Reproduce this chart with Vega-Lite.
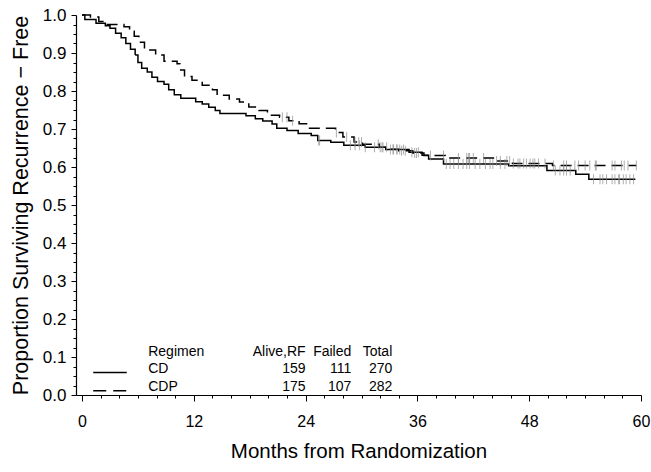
{
  "$schema": "https://vega.github.io/schema/vega-lite/v6.json",
  "autosize": "none",
  "width": 565,
  "height": 380,
  "padding": {"left": 76, "top": 15, "right": 10, "bottom": 77},
  "background": "white",
  "config": {
    "view": {"stroke": null},
    "font": "Liberation Sans",
    "axis": {"domainColor": "black", "tickColor": "black", "labelColor": "black", "titleColor": "black", "grid": false, "titleFontWeight": "normal", "labelFont": "Liberation Sans", "titleFont": "Liberation Sans", "domainWidth": 1.2, "tickWidth": 1, "labelOverlap": false, "labelFlush": false}
  },
  "datasets": {
    "curves": [
      {"regimen": "CD", "t": 0, "s": 1.0},
      {"regimen": "CD", "t": 0.3, "s": 0.988},
      {"regimen": "CD", "t": 1.5, "s": 0.978},
      {"regimen": "CD", "t": 2.5, "s": 0.972},
      {"regimen": "CD", "t": 3.0, "s": 0.965},
      {"regimen": "CD", "t": 3.6, "s": 0.952},
      {"regimen": "CD", "t": 4.2, "s": 0.94},
      {"regimen": "CD", "t": 4.7, "s": 0.925},
      {"regimen": "CD", "t": 5.2, "s": 0.91},
      {"regimen": "CD", "t": 5.7, "s": 0.895},
      {"regimen": "CD", "t": 6.0, "s": 0.875},
      {"regimen": "CD", "t": 6.4, "s": 0.86},
      {"regimen": "CD", "t": 7.0, "s": 0.85},
      {"regimen": "CD", "t": 7.5, "s": 0.836},
      {"regimen": "CD", "t": 8.1, "s": 0.825},
      {"regimen": "CD", "t": 8.8, "s": 0.818},
      {"regimen": "CD", "t": 9.3, "s": 0.803},
      {"regimen": "CD", "t": 9.9, "s": 0.79},
      {"regimen": "CD", "t": 10.6, "s": 0.781},
      {"regimen": "CD", "t": 12.2, "s": 0.772},
      {"regimen": "CD", "t": 12.9, "s": 0.766},
      {"regimen": "CD", "t": 13.6, "s": 0.757},
      {"regimen": "CD", "t": 14.3, "s": 0.749},
      {"regimen": "CD", "t": 14.8, "s": 0.741},
      {"regimen": "CD", "t": 17.6, "s": 0.735},
      {"regimen": "CD", "t": 18.6, "s": 0.727},
      {"regimen": "CD", "t": 19.4, "s": 0.721},
      {"regimen": "CD", "t": 20.4, "s": 0.713},
      {"regimen": "CD", "t": 20.9, "s": 0.702},
      {"regimen": "CD", "t": 22.0, "s": 0.696},
      {"regimen": "CD", "t": 23.2, "s": 0.688},
      {"regimen": "CD", "t": 24.6, "s": 0.683},
      {"regimen": "CD", "t": 25.3, "s": 0.67},
      {"regimen": "CD", "t": 26.7, "s": 0.665},
      {"regimen": "CD", "t": 28.1, "s": 0.657},
      {"regimen": "CD", "t": 30.4, "s": 0.652},
      {"regimen": "CD", "t": 32.6, "s": 0.646},
      {"regimen": "CD", "t": 35.1, "s": 0.639},
      {"regimen": "CD", "t": 36.5, "s": 0.631},
      {"regimen": "CD", "t": 37.2, "s": 0.621},
      {"regimen": "CD", "t": 38.8, "s": 0.608},
      {"regimen": "CD", "t": 45.8, "s": 0.603},
      {"regimen": "CD", "t": 49.9, "s": 0.591},
      {"regimen": "CD", "t": 53.0, "s": 0.581},
      {"regimen": "CD", "t": 54.4, "s": 0.568},
      {"regimen": "CD", "t": 59.4, "s": 0.568},
      {"regimen": "CDP", "t": 0, "s": 1.0},
      {"regimen": "CDP", "t": 0.9, "s": 0.995},
      {"regimen": "CDP", "t": 1.8, "s": 0.983},
      {"regimen": "CDP", "t": 2.5, "s": 0.975},
      {"regimen": "CDP", "t": 4.5, "s": 0.969},
      {"regimen": "CDP", "t": 5.1, "s": 0.957},
      {"regimen": "CDP", "t": 5.6, "s": 0.944},
      {"regimen": "CDP", "t": 6.1, "s": 0.928},
      {"regimen": "CDP", "t": 6.7, "s": 0.908},
      {"regimen": "CDP", "t": 7.9, "s": 0.895},
      {"regimen": "CDP", "t": 8.8, "s": 0.878},
      {"regimen": "CDP", "t": 10.2, "s": 0.872},
      {"regimen": "CDP", "t": 10.5, "s": 0.855},
      {"regimen": "CDP", "t": 11.0, "s": 0.838},
      {"regimen": "CDP", "t": 11.8, "s": 0.828},
      {"regimen": "CDP", "t": 12.9, "s": 0.815},
      {"regimen": "CDP", "t": 14.0, "s": 0.803},
      {"regimen": "CDP", "t": 14.5, "s": 0.789},
      {"regimen": "CDP", "t": 15.8, "s": 0.779},
      {"regimen": "CDP", "t": 16.9, "s": 0.771},
      {"regimen": "CDP", "t": 17.9, "s": 0.758},
      {"regimen": "CDP", "t": 19.0, "s": 0.749},
      {"regimen": "CDP", "t": 19.9, "s": 0.736},
      {"regimen": "CDP", "t": 21.2, "s": 0.731},
      {"regimen": "CDP", "t": 22.2, "s": 0.722},
      {"regimen": "CDP", "t": 23.3, "s": 0.714},
      {"regimen": "CDP", "t": 24.1, "s": 0.702},
      {"regimen": "CDP", "t": 27.2, "s": 0.691},
      {"regimen": "CDP", "t": 28.0, "s": 0.679},
      {"regimen": "CDP", "t": 29.2, "s": 0.666},
      {"regimen": "CDP", "t": 30.1, "s": 0.66},
      {"regimen": "CDP", "t": 31.9, "s": 0.652},
      {"regimen": "CDP", "t": 33.0, "s": 0.647},
      {"regimen": "CDP", "t": 34.0, "s": 0.643},
      {"regimen": "CDP", "t": 35.5, "s": 0.637},
      {"regimen": "CDP", "t": 36.7, "s": 0.63},
      {"regimen": "CDP", "t": 39.0, "s": 0.624},
      {"regimen": "CDP", "t": 44.4, "s": 0.616},
      {"regimen": "CDP", "t": 46.2, "s": 0.609},
      {"regimen": "CDP", "t": 50.5, "s": 0.604},
      {"regimen": "CDP", "t": 59.5, "s": 0.604}
    ],
    "censored": [
      {"regimen": "CDP", "t": 21.5, "s": 0.731},
      {"regimen": "CDP", "t": 22.0, "s": 0.731},
      {"regimen": "CDP", "t": 22.6, "s": 0.722},
      {"regimen": "CDP", "t": 27.3, "s": 0.691},
      {"regimen": "CDP", "t": 28.4, "s": 0.679},
      {"regimen": "CDP", "t": 29.3, "s": 0.666},
      {"regimen": "CDP", "t": 29.7, "s": 0.666},
      {"regimen": "CDP", "t": 30.0, "s": 0.666},
      {"regimen": "CDP", "t": 31.8, "s": 0.66},
      {"regimen": "CDP", "t": 32.2, "s": 0.652},
      {"regimen": "CDP", "t": 32.7, "s": 0.652},
      {"regimen": "CDP", "t": 33.4, "s": 0.647},
      {"regimen": "CDP", "t": 33.8, "s": 0.647},
      {"regimen": "CDP", "t": 34.3, "s": 0.643},
      {"regimen": "CDP", "t": 34.7, "s": 0.643},
      {"regimen": "CDP", "t": 35.7, "s": 0.637},
      {"regimen": "CDP", "t": 35.9, "s": 0.637},
      {"regimen": "CDP", "t": 37.4, "s": 0.63},
      {"regimen": "CDP", "t": 38.8, "s": 0.63},
      {"regimen": "CDP", "t": 40.4, "s": 0.624},
      {"regimen": "CDP", "t": 41.3, "s": 0.624},
      {"regimen": "CDP", "t": 41.5, "s": 0.624},
      {"regimen": "CDP", "t": 41.6, "s": 0.624},
      {"regimen": "CDP", "t": 42.0, "s": 0.624},
      {"regimen": "CDP", "t": 43.1, "s": 0.624},
      {"regimen": "CDP", "t": 44.5, "s": 0.616},
      {"regimen": "CDP", "t": 44.9, "s": 0.616},
      {"regimen": "CDP", "t": 45.6, "s": 0.616},
      {"regimen": "CDP", "t": 45.9, "s": 0.616},
      {"regimen": "CDP", "t": 46.3, "s": 0.609},
      {"regimen": "CDP", "t": 46.8, "s": 0.609},
      {"regimen": "CDP", "t": 47.0, "s": 0.609},
      {"regimen": "CDP", "t": 47.4, "s": 0.609},
      {"regimen": "CDP", "t": 47.7, "s": 0.609},
      {"regimen": "CDP", "t": 48.1, "s": 0.609},
      {"regimen": "CDP", "t": 48.4, "s": 0.609},
      {"regimen": "CDP", "t": 48.6, "s": 0.609},
      {"regimen": "CDP", "t": 49.0, "s": 0.609},
      {"regimen": "CDP", "t": 49.7, "s": 0.609},
      {"regimen": "CDP", "t": 50.6, "s": 0.604},
      {"regimen": "CDP", "t": 51.7, "s": 0.604},
      {"regimen": "CDP", "t": 52.0, "s": 0.604},
      {"regimen": "CDP", "t": 52.9, "s": 0.604},
      {"regimen": "CDP", "t": 53.3, "s": 0.604},
      {"regimen": "CDP", "t": 54.0, "s": 0.604},
      {"regimen": "CDP", "t": 54.5, "s": 0.604},
      {"regimen": "CDP", "t": 55.1, "s": 0.604},
      {"regimen": "CDP", "t": 55.2, "s": 0.604},
      {"regimen": "CDP", "t": 56.9, "s": 0.604},
      {"regimen": "CDP", "t": 57.2, "s": 0.604},
      {"regimen": "CDP", "t": 57.9, "s": 0.604},
      {"regimen": "CDP", "t": 58.2, "s": 0.604},
      {"regimen": "CDP", "t": 58.6, "s": 0.604},
      {"regimen": "CDP", "t": 59.5, "s": 0.604},
      {"regimen": "CD", "t": 25.4, "s": 0.67},
      {"regimen": "CD", "t": 25.5, "s": 0.67},
      {"regimen": "CD", "t": 28.8, "s": 0.657},
      {"regimen": "CD", "t": 29.3, "s": 0.657},
      {"regimen": "CD", "t": 29.8, "s": 0.657},
      {"regimen": "CD", "t": 30.4, "s": 0.652},
      {"regimen": "CD", "t": 31.4, "s": 0.652},
      {"regimen": "CD", "t": 32.0, "s": 0.652},
      {"regimen": "CD", "t": 32.3, "s": 0.652},
      {"regimen": "CD", "t": 33.1, "s": 0.646},
      {"regimen": "CD", "t": 33.4, "s": 0.646},
      {"regimen": "CD", "t": 33.8, "s": 0.646},
      {"regimen": "CD", "t": 34.1, "s": 0.646},
      {"regimen": "CD", "t": 34.5, "s": 0.646},
      {"regimen": "CD", "t": 35.4, "s": 0.639},
      {"regimen": "CD", "t": 36.1, "s": 0.639},
      {"regimen": "CD", "t": 39.1, "s": 0.608},
      {"regimen": "CD", "t": 39.5, "s": 0.608},
      {"regimen": "CD", "t": 39.9, "s": 0.608},
      {"regimen": "CD", "t": 40.4, "s": 0.608},
      {"regimen": "CD", "t": 40.9, "s": 0.608},
      {"regimen": "CD", "t": 41.3, "s": 0.608},
      {"regimen": "CD", "t": 41.6, "s": 0.608},
      {"regimen": "CD", "t": 42.2, "s": 0.608},
      {"regimen": "CD", "t": 42.7, "s": 0.608},
      {"regimen": "CD", "t": 43.3, "s": 0.608},
      {"regimen": "CD", "t": 43.8, "s": 0.608},
      {"regimen": "CD", "t": 44.1, "s": 0.608},
      {"regimen": "CD", "t": 44.9, "s": 0.608},
      {"regimen": "CD", "t": 45.4, "s": 0.608},
      {"regimen": "CD", "t": 50.8, "s": 0.591},
      {"regimen": "CD", "t": 51.3, "s": 0.591},
      {"regimen": "CD", "t": 51.7, "s": 0.591},
      {"regimen": "CD", "t": 52.0, "s": 0.591},
      {"regimen": "CD", "t": 52.4, "s": 0.591},
      {"regimen": "CD", "t": 54.9, "s": 0.568},
      {"regimen": "CD", "t": 55.6, "s": 0.568},
      {"regimen": "CD", "t": 55.9, "s": 0.568},
      {"regimen": "CD", "t": 56.3, "s": 0.568},
      {"regimen": "CD", "t": 56.9, "s": 0.568},
      {"regimen": "CD", "t": 57.2, "s": 0.568},
      {"regimen": "CD", "t": 57.6, "s": 0.568},
      {"regimen": "CD", "t": 57.7, "s": 0.568},
      {"regimen": "CD", "t": 58.1, "s": 0.568},
      {"regimen": "CD", "t": 58.4, "s": 0.568},
      {"regimen": "CD", "t": 58.8, "s": 0.568},
      {"regimen": "CD", "t": 59.2, "s": 0.568}
    ],
    "summary": [
      {"regimen": "CD", "alive": 159, "failed": 111, "total": 270},
      {"regimen": "CDP", "alive": 175, "failed": 107, "total": 282}
    ]
  },
  "resolve": {"axis": {"x": "independent", "y": "independent"}},
  "layer": [
    {
      "layer": [
        {
          "data": {"name": "curves"},
          "mark": {"type": "line", "interpolate": "step-after", "color": "black", "strokeWidth": 1.5},
          "encoding": {
            "x": {"field": "t", "type": "quantitative",
              "scale": {"domain": [-0.65, 60], "nice": false, "zero": false},
              "axis": {
                "title": "Months from Randomization", "orient": "bottom",
                "titleFontSize": 20.5, "titlePadding": 12,
                "values": [0, 12, 24, 36, 48, 60],
                "labelFontSize": 16, "labelPadding": 12, "tickSize": 6
              }
            },
            "y": {"field": "s", "type": "quantitative",
              "scale": {"domain": [0, 1], "nice": false},
              "axis": {
                "title": "Proportion Surviving Recurrence − Free", "orient": "left",
                "titleFontSize": 21.5, "titlePadding": 10,
                "values": [0, 0.2, 0.4, 0.6, 0.8, 1],
                "format": ".1f",
                "labelFontSize": 17, "labelPadding": 5, "tickSize": 5
              }
            },
            "detail": {"field": "regimen"},
            "strokeDash": {"field": "regimen", "type": "nominal", "scale": {"domain": ["CD", "CDP"], "range": [[1, 0], [11, 6]]}, "legend": null}
          }
        },
        {
          "data": {"name": "censored"},
          "mark": {"type": "tick", "orient": "vertical", "color": "#8c8c8c", "size": 10, "thickness": 1},
          "encoding": {
            "x": {"field": "t", "type": "quantitative"},
            "y": {"field": "s", "type": "quantitative"}
          }
        },
        {
          "data": {"values": [{"regimen": "CD"}]},
          "mark": {"type": "rule", "color": "black", "strokeWidth": 1.5},
          "encoding": {"x": {"datum": 1.2}, "x2": {"datum": 4.8}, "y": {"datum": 0.059}}
        },
        {
          "data": {"values": [{"regimen": "CDP"}]},
          "mark": {"type": "rule", "color": "black", "strokeWidth": 1.5, "strokeDash": [13, 7]},
          "encoding": {"x": {"datum": 1.2}, "x2": {"datum": 4.8}, "y": {"datum": 0.011}}
        },
        {
          "data": {"values": [{"h": "Regimen"}]},
          "mark": {"type": "text", "align": "left", "baseline": "middle", "fontSize": 14, "font": "Liberation Sans", "color": "black"},
          "encoding": {"x": {"datum": 7.1}, "y": {"datum": 0.114}, "text": {"field": "h"}}
        },
        {
          "data": {"values": [{"h": "Alive,RF"}]},
          "mark": {"type": "text", "align": "right", "baseline": "middle", "fontSize": 14, "font": "Liberation Sans", "color": "black"},
          "encoding": {"x": {"datum": 24.0}, "y": {"datum": 0.114}, "text": {"field": "h"}}
        },
        {
          "data": {"values": [{"h": "Failed"}]},
          "mark": {"type": "text", "align": "right", "baseline": "middle", "fontSize": 14, "font": "Liberation Sans", "color": "black"},
          "encoding": {"x": {"datum": 28.9}, "y": {"datum": 0.114}, "text": {"field": "h"}}
        },
        {
          "data": {"values": [{"h": "Total"}]},
          "mark": {"type": "text", "align": "right", "baseline": "middle", "fontSize": 14, "font": "Liberation Sans", "color": "black"},
          "encoding": {"x": {"datum": 33.3}, "y": {"datum": 0.114}, "text": {"field": "h"}}
        },
        {
          "data": {"name": "summary"},
          "transform": [{"filter": "datum.regimen == 'CD'"}],
          "layer": [
            {"mark": {"type": "text", "align": "left", "baseline": "middle", "fontSize": 14, "font": "Liberation Sans", "color": "black"},
             "encoding": {"x": {"datum": 7.1}, "y": {"datum": 0.068}, "text": {"field": "regimen"}}},
            {"mark": {"type": "text", "align": "right", "baseline": "middle", "fontSize": 14, "font": "Liberation Sans", "color": "black"},
             "encoding": {"x": {"datum": 24.0}, "y": {"datum": 0.068}, "text": {"field": "alive"}}},
            {"mark": {"type": "text", "align": "right", "baseline": "middle", "fontSize": 14, "font": "Liberation Sans", "color": "black"},
             "encoding": {"x": {"datum": 28.9}, "y": {"datum": 0.068}, "text": {"field": "failed"}}},
            {"mark": {"type": "text", "align": "right", "baseline": "middle", "fontSize": 14, "font": "Liberation Sans", "color": "black"},
             "encoding": {"x": {"datum": 33.3}, "y": {"datum": 0.068}, "text": {"field": "total"}}}
          ]
        },
        {
          "data": {"name": "summary"},
          "transform": [{"filter": "datum.regimen == 'CDP'"}],
          "layer": [
            {"mark": {"type": "text", "align": "left", "baseline": "middle", "fontSize": 14, "font": "Liberation Sans", "color": "black"},
             "encoding": {"x": {"datum": 7.1}, "y": {"datum": 0.022}, "text": {"field": "regimen"}}},
            {"mark": {"type": "text", "align": "right", "baseline": "middle", "fontSize": 14, "font": "Liberation Sans", "color": "black"},
             "encoding": {"x": {"datum": 24.0}, "y": {"datum": 0.022}, "text": {"field": "alive"}}},
            {"mark": {"type": "text", "align": "right", "baseline": "middle", "fontSize": 14, "font": "Liberation Sans", "color": "black"},
             "encoding": {"x": {"datum": 28.9}, "y": {"datum": 0.022}, "text": {"field": "failed"}}},
            {"mark": {"type": "text", "align": "right", "baseline": "middle", "fontSize": 14, "font": "Liberation Sans", "color": "black"},
             "encoding": {"x": {"datum": 33.3}, "y": {"datum": 0.022}, "text": {"field": "total"}}}
          ]
        }
      ]
    },
    {
      "data": {"name": "curves"},
      "mark": {"type": "line", "opacity": 0},
      "encoding": {
        "x": {"field": "t", "type": "quantitative", "axis": null},
        "y": {"field": "s", "type": "quantitative",
          "axis": {"orient": "left", "title": null, "domain": false, "tickSize": 5,
            "values": [0.1, 0.3, 0.5, 0.7, 0.9], "format": ".1f",
            "labelFontSize": 17, "labelPadding": 5}},
        "detail": {"field": "regimen"}
      }
    },
    {
      "data": {"name": "curves"},
      "mark": {"type": "line", "opacity": 0},
      "encoding": {
        "x": {"field": "t", "type": "quantitative",
          "axis": {"orient": "bottom", "title": null, "labels": false, "domain": false, "tickSize": 3,
            "values": [2,4,6,8,10,14,16,18,20,22,26,28,30,32,34,38,40,42,44,46,50,52,54,56,58]}},
        "y": {"field": "s", "type": "quantitative",
          "axis": {"orient": "left", "title": null, "labels": false, "domain": false, "tickSize": 3,
            "values": [0.025,0.05,0.075,0.125,0.15,0.175,0.225,0.25,0.275,0.325,0.35,0.375,0.425,0.45,0.475,0.525,0.55,0.575,0.625,0.65,0.675,0.725,0.75,0.775,0.825,0.85,0.875,0.925,0.95,0.975]}},
        "detail": {"field": "regimen"}
      }
    }
  ]
}
